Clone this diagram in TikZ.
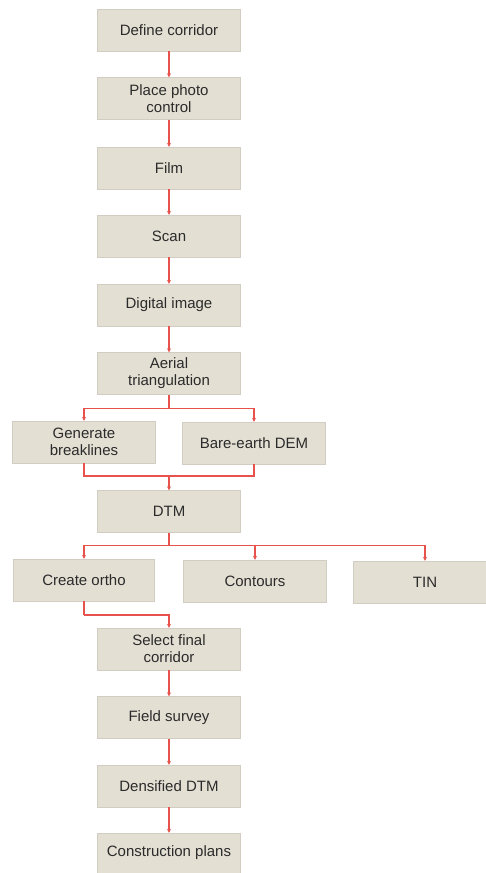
\documentclass[tikz,border=0pt]{standalone}
\usepackage{fontspec}
\setmainfont{Liberation Sans}
\usetikzlibrary{arrows.meta}
\definecolor{boxfill}{HTML}{E3DFD3}
\definecolor{linered}{HTML}{E8524C}
\definecolor{txt}{HTML}{2B2B2B}
\begin{document}
\begin{tikzpicture}[x=1pt,y=-1pt,
  box/.style={fill=boxfill, draw=boxfill!92!black, line width=0.3pt, minimum width=143pt, minimum height=42pt,
    text=txt, align=center, inner sep=2pt, font=\fontsize{15}{17}\selectfont},
  link/.style={draw=linered, line width=1.4pt},
  arr/.style={link, -{Stealth[length=4pt,width=4pt]}}]
\useasboundingbox (0,0) rectangle (485,873);
\node[box] (def) at (169,30) {Define corridor};
\node[box] (place) at (169,98.5) {Place photo\\control};
\node[box] (film) at (169,168) {Film};
\node[box] (scan) at (169,236) {Scan};
\node[box] (dig) at (169,305) {Digital image};
\node[box] (aer) at (169,373.5) {Aerial\\triangulation};
\node[box] (gen) at (84,442) {Generate\\breaklines};
\node[box] (bare) at (254,443) {Bare-earth DEM};
\node[box] (dtm) at (169,511.5) {DTM};
\node[box, minimum width=141pt] (ortho) at (84,580) {Create ortho};
\node[box] (cont) at (255,581) {Contours};
\node[box] (tin) at (425,582) {TIN};
\node[box] (sel) at (169,649) {Select final\\corridor};
\node[box] (field) at (169,717.5) {Field survey};
\node[box] (dens) at (169,786) {Densified DTM};
\node[box, minimum height=40pt] (cons) at (169,853) {Construction plans};

\draw[arr] (def) -- (place);
\draw[arr] (place) -- (film);
\draw[arr] (film) -- (scan);
\draw[arr] (scan) -- (dig);
\draw[arr] (dig) -- (aer);
\draw[link] (aer.south) -- ++(0,14) coordinate (a1);
\draw[arr] (a1) -| (gen.north);
\draw[arr] (a1) -| (bare.north);
\coordinate (m) at (169,476);
\draw[link] (gen.south) |- (m) -| (bare.south);
\draw[arr] (m) -- (dtm.north);
\draw[link] (dtm.south) -- ++(0,13) coordinate (d1);
\draw[arr] (d1) -| (ortho.north);
\draw[arr] (d1) -| (cont.north);
\draw[arr] (d1) -| (tin.north);
\draw[link] (ortho.south) -- ++(0,14) coordinate (o1);
\draw[arr] (o1) -| (sel.north);
\draw[arr] (sel) -- (field);
\draw[arr] (field) -- (dens);
\draw[arr] (dens) -- (cons);
\end{tikzpicture}
\end{document}
